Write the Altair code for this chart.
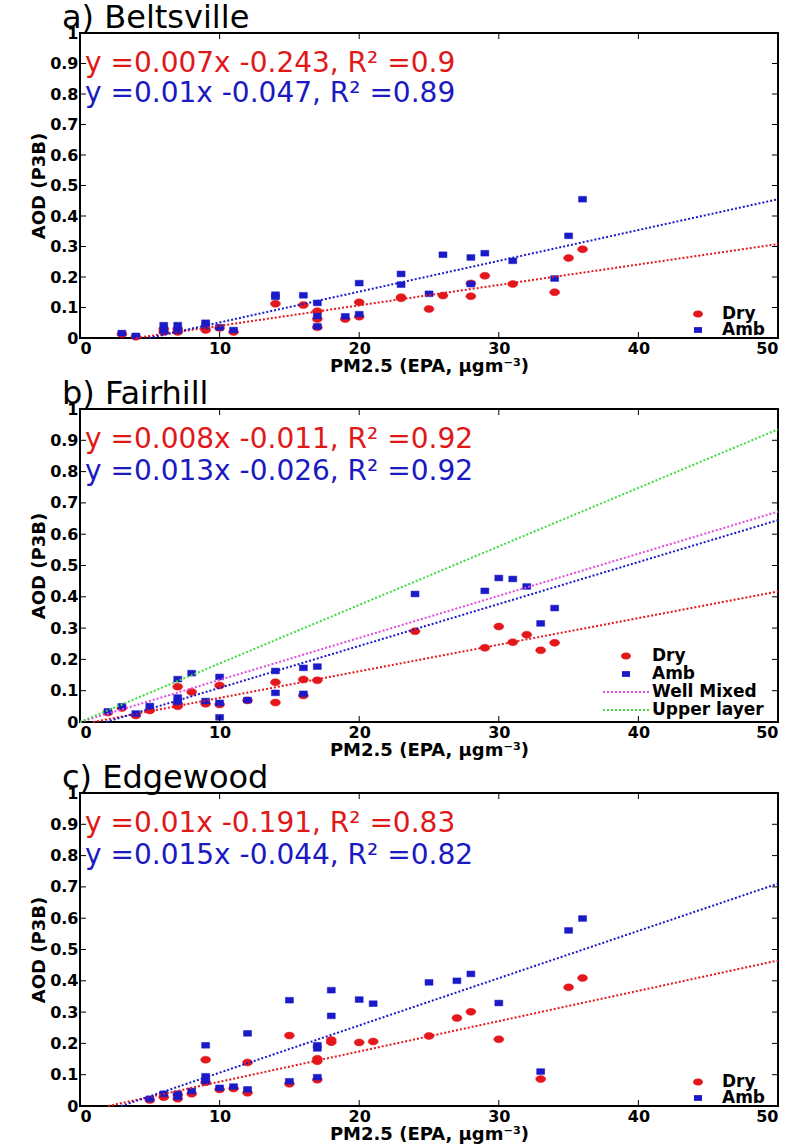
import altair as alt
import pandas as pd

# ---------------- data ----------------
SERIES = ["Dry", "Amb", "Well Mixed", "Upper layer"]

A_DRY_X = [3, 4, 6, 6, 7, 7, 9, 10, 11, 14, 16, 17, 17, 17, 19, 20, 20, 23, 23, 25, 26, 28, 28, 29, 31, 34, 35, 36]
A_DRY_Y = [0.013, 0.004, 0.03, 0.02, 0.03, 0.02, 0.026, 0.033, 0.02, 0.112, 0.108, 0.088, 0.062, 0.035, 0.062,
           0.117, 0.07, 0.13, 0.134, 0.095, 0.139, 0.179, 0.137, 0.204, 0.177, 0.15, 0.262, 0.291]
A_AMB_X = [3, 4, 6, 6, 7, 7, 9, 9, 10, 11, 14, 14, 16, 17, 17, 17, 19, 20, 20, 23, 23, 25, 26, 28, 28, 29, 31, 34, 35, 36]
A_AMB_Y = [0.016, 0.007, 0.042, 0.022, 0.042, 0.024, 0.05, 0.04, 0.035, 0.026, 0.142, 0.135, 0.14, 0.115, 0.072,
           0.038, 0.071, 0.18, 0.078, 0.21, 0.175, 0.145, 0.273, 0.264, 0.177, 0.278, 0.253, 0.195, 0.335, 0.455]

B_DRY_X = [2, 3, 4, 5, 7, 7, 7, 8, 9, 10, 10, 12, 14, 14, 16, 16, 17, 24, 29, 30, 31, 32, 33, 34]
B_DRY_Y = [0.03, 0.045, 0.021, 0.037, 0.113, 0.05, 0.058, 0.096, 0.058, 0.117, 0.056, 0.069, 0.127, 0.062,
           0.136, 0.085, 0.133, 0.29, 0.237, 0.305, 0.255, 0.279, 0.229, 0.253]
B_AMB_X = [2, 3, 4, 5, 7, 7, 7, 8, 9, 10, 10, 10, 12, 14, 14, 16, 16, 17, 24, 29, 30, 31, 32, 33, 34]
B_AMB_Y = [0.034, 0.05, 0.027, 0.051, 0.137, 0.078, 0.064, 0.156, 0.067, 0.144, 0.061, 0.015, 0.07, 0.163,
           0.093, 0.173, 0.09, 0.177, 0.409, 0.419, 0.46, 0.457, 0.433, 0.315, 0.364]

C_DRY_X = [5, 6, 7, 7, 8, 9, 9, 10, 11, 12, 12, 15, 15, 17, 17, 17, 18, 18, 20, 21, 25, 27, 28, 30, 33, 35, 36]
C_DRY_Y = [0.019, 0.028, 0.023, 0.036, 0.039, 0.148, 0.076, 0.053, 0.056, 0.139, 0.042, 0.225, 0.071, 0.151,
           0.143, 0.084, 0.211, 0.204, 0.203, 0.206, 0.224, 0.281, 0.301, 0.213, 0.086, 0.379, 0.409]
C_AMB_X = [5, 6, 7, 7, 8, 9, 9, 9, 10, 11, 12, 12, 15, 15, 17, 17, 17, 18, 18, 20, 21, 25, 27, 28, 30, 33, 35, 36]
C_AMB_Y = [0.023, 0.039, 0.039, 0.029, 0.048, 0.194, 0.095, 0.079, 0.058, 0.062, 0.232, 0.053, 0.338, 0.079,
           0.194, 0.184, 0.092, 0.37, 0.288, 0.34, 0.327, 0.395, 0.4, 0.422, 0.329, 0.11, 0.561, 0.599]

# fitted lines as drawn: (series, slope, intercept)
A_FITS = [("Dry", 0.0067, -0.027), ("Amb", 0.0101, -0.050)]
B_FITS = [("Dry", 0.0085, -0.008), ("Amb", 0.0134, -0.025),
          ("Well Mixed", 0.01344, 0.0), ("Upper layer", 0.0187, 0.0)]
C_FITS = [("Dry", 0.00969, -0.0195), ("Amb", 0.0151, -0.0445)]

A_EQ = ["y =0.007x -0.243, R\u00b2 =0.9", "y =0.01x -0.047, R\u00b2 =0.89"]
B_EQ = ["y =0.008x -0.011, R\u00b2 =0.92", "y =0.013x -0.026, R\u00b2 =0.92"]
C_EQ = ["y =0.01x -0.191, R\u00b2 =0.83", "y =0.015x -0.044, R\u00b2 =0.82"]

TITLES = ["a) Beltsville", "b) Fairhill", "c) Edgewood"]
X_TICKS = [0, 10, 20, 30, 40, 50]
Y_TICKS = [0, 0.1, 0.2, 0.3, 0.4, 0.5, 0.6, 0.7, 0.8, 0.9, 1]
X_TITLE = "PM2.5 (EPA, \u03bcgm\u207b\u00b3)"
Y_TITLE = "AOD (P3B)"

# ---------------- style ----------------
FONT = "DejaVu Sans"
RED = "#e3171c"
BLUE = "#1a1ac8"
MAG = "#e04ce0"
GREEN = "#3cdc3c"
EQ_RED = "#e01818"
EQ_BLUE = "#1a1ac0"
ELLIPSE = "M-1,0A1,0.7,0,1,1,1,0A1,0.7,0,1,1,-1,0Z"
RECT = "M-1,-0.72L1,-0.72L1,0.72L-1,0.72Z"
COLORS = [RED, BLUE, MAG, GREEN]
SHAPES = [ELLIPSE, RECT]
SIZES = [100, 64]
W = 698


def legend_layers(height, n):
    layers = []
    if n == 2:
        offs = [24, 8]
        sym_x, t_x, l0, l1 = W - 80, W - 56, None, None
    else:
        offs = [66, 48, 30, 12]
        sym_x, t_x, l0, l1 = W - 152, W - 126, W - 175, W - 129
    for i in range(n):
        name = SERIES[i]
        yy = height - offs[i]
        src = alt.Chart(pd.DataFrame({"label": [name]}))
        if i < 2:
            layers.append(src.mark_point(shape=SHAPES[i], size=SIZES[i], filled=True,
                                         color=COLORS[i], opacity=1).encode(
                x=alt.value(sym_x), y=alt.value(yy)))
        else:
            layers.append(src.mark_rule(color=COLORS[i], strokeWidth=2, strokeDash=[2, 2]).encode(
                x=alt.value(l0), x2=alt.value(l1), y=alt.value(yy)))
        layers.append(src.mark_text(align="left", baseline="middle", font=FONT, fontSize=17,
                                    fontWeight="bold", color="black").encode(
            x=alt.value(t_x), y=alt.value(yy), text="label:N"))
    return layers


def panel(title, dry_x, dry_y, amb_x, amb_y, fits, eqs, height, n_series):
    dom = SERIES[:n_series]
    pts = pd.concat([
        pd.DataFrame({"series": "Dry", "x": dry_x, "y": dry_y, "ord": 0}),
        pd.DataFrame({"series": "Amb", "x": amb_x, "y": amb_y, "ord": 1}),
    ], ignore_index=True)
    rows = []
    for s, m, b in fits:
        x0 = max(0.0, -b / m)
        rows.append({"series": s, "x": x0, "y": m * x0 + b})
        rows.append({"series": s, "x": 50.0, "y": m * 50.0 + b})
    lines = pd.DataFrame(rows)

    xs = alt.Scale(domain=[0, 50], nice=False, zero=False)
    ys = alt.Scale(domain=[0, 1], nice=False, zero=False)
    col_s = alt.Scale(domain=dom, range=COLORS[:n_series])
    shape_s = alt.Scale(domain=SERIES[:2], range=SHAPES)
    size_s = alt.Scale(domain=SERIES[:2], range=SIZES)

    xaxis = alt.Axis(values=X_TICKS, title=X_TITLE, format="d", labelOverlap=False)
    yaxis = alt.Axis(values=Y_TICKS, title=Y_TITLE, format=".1~f", labelOverlap=False)

    def X(f):
        return alt.X(f, scale=xs, axis=xaxis, title=X_TITLE)

    def Y(f):
        return alt.Y(f, scale=ys, axis=yaxis, title=Y_TITLE)

    points = alt.Chart(pts).mark_point(filled=True, strokeWidth=0.5, opacity=1).encode(
        x=X("x:Q"),
        y=Y("y:Q"),
        fill=alt.Fill("series:N", scale=col_s, legend=None),
        stroke=alt.Stroke("series:N", scale=col_s, legend=None),
        shape=alt.Shape("series:N", scale=shape_s, legend=None),
        size=alt.Size("series:N", scale=size_s, legend=None),
        order=alt.Order("ord:Q"),
    )

    fit_lines = alt.Chart(lines).mark_line(strokeDash=[2, 2], strokeWidth=2).encode(
        x=X("x:Q"),
        y=Y("y:Q"),
        stroke=alt.Stroke("series:N", scale=col_s, legend=None),
        detail="series:N",
    )

    eq_df = pd.DataFrame({"t": eqs, "lvl": [0.9, 0.8], "c": [EQ_RED, EQ_BLUE]})
    eqt = alt.Chart(eq_df).mark_text(
        align="left", baseline="middle", font=FONT, fontSize=28
    ).encode(x=alt.value(5), y=Y("lvl:Q"), text="t:N", color=alt.Color("c:N", scale=None))

    yt = pd.DataFrame({"v": Y_TICKS[1:-1]})
    xt = pd.DataFrame({"v": X_TICKS[1:-1]})
    tl = 6
    lt = alt.Chart(yt).mark_rule(color="black", strokeWidth=1).encode(
        y=Y("v:Q"), x=alt.value(0), x2=alt.value(tl))
    rt = alt.Chart(yt).mark_rule(color="black", strokeWidth=1).encode(
        y=Y("v:Q"), x=alt.value(W - tl), x2=alt.value(W))
    bt = alt.Chart(xt).mark_rule(color="black", strokeWidth=1).encode(
        x=X("v:Q"), y=alt.value(height), y2=alt.value(height - tl))
    tt = alt.Chart(xt).mark_rule(color="black", strokeWidth=1).encode(
        x=X("v:Q"), y=alt.value(0), y2=alt.value(tl))

    layers = [points, fit_lines, eqt, lt, rt, bt, tt] + legend_layers(height, n_series)
    return alt.layer(*layers).properties(
        width=W, height=height,
        title=alt.TitleParams(title, anchor="start", frame="group", font=FONT, fontSize=32,
                              fontWeight="normal", color="black", dx=-18, offset=-10),
    )


pa = panel(TITLES[0], A_DRY_X, A_DRY_Y, A_AMB_X, A_AMB_Y, A_FITS, A_EQ, 305, 2)
pb = panel(TITLES[1], B_DRY_X, B_DRY_Y, B_AMB_X, B_AMB_Y, B_FITS, B_EQ, 313, 4)
pc = panel(TITLES[2], C_DRY_X, C_DRY_Y, C_AMB_X, C_AMB_Y, C_FITS, C_EQ, 313, 2)

chart = alt.vconcat(pa, pb, pc, spacing=1).resolve_scale(
    fill="independent", stroke="independent", shape="independent", size="independent"
).properties(
    padding={"left": 29, "top": 1, "right": 0, "bottom": 0},
    background="white",
).configure_view(
    stroke="black", strokeWidth=2
).configure_axis(
    labelFont=FONT, labelFontSize=16, labelFontWeight="bold", labelColor="black",
    titleFont=FONT, titleFontSize=18, titleFontWeight="bold", titleColor="black",
    ticks=False, domain=False, grid=False, labelPadding=2, titlePadding=1,
)

chart.save("out.html", embed_options={"renderer": "svg", "actions": False})
